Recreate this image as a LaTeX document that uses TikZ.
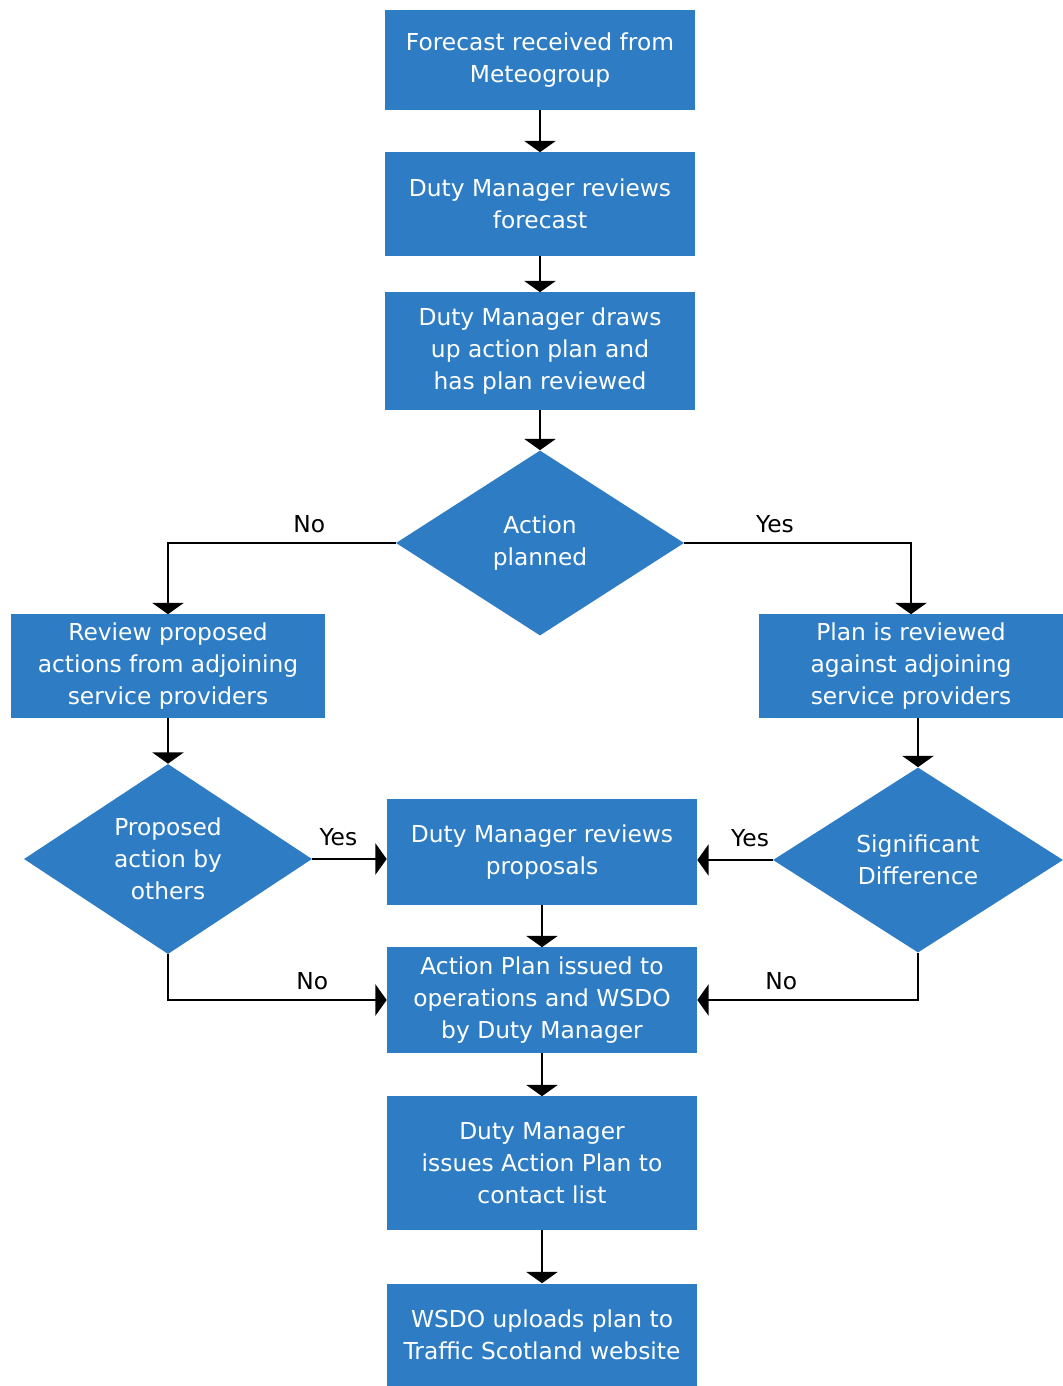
\documentclass[tikz,border=0pt]{standalone}
\usepackage{fontspec}
\setmainfont{DejaVu Sans}
\usetikzlibrary{shapes.geometric,arrows.meta}
\definecolor{flowblue}{RGB}{46,125,196}
\begin{document}
\begin{tikzpicture}[x=0.025cm, y=-0.025cm,
	font=\fontsize{16.6}{22.8}\selectfont,
	box/.style={rectangle, fill=flowblue, text=white, align=center, inner sep=0pt, minimum width=7.75cm},
	decision/.style={diamond, fill=flowblue, text=white, align=center, inner sep=0pt, minimum width=7.2cm, minimum height=4.625cm},
	arr/.style={line width=1.9pt, -{Triangle[length=8pt, width=22pt]}}]
	\useasboundingbox (0, 0) rectangle (1063, 1386);
	\node (fc)   at (540,   60)	[box, minimum height=2.5cm]	{Forecast received from\\Meteogroup};
	\node (rev)  at (540,  204)	[box, minimum height=2.575cm]	{Duty Manager reviews\\forecast};
	\node (draw) at (540,  351)	[box, minimum height=2.925cm]	{Duty Manager draws\\up action plan and\\has plan reviewed};
	\node (act)  at (540,  543)	[decision]	{Action\\planned};
	\node (adjL) at (168,  666)	[box, minimum width=7.825cm, minimum height=2.575cm]	{Review proposed\\actions from adjoining\\service providers};
	\node (adjR) at (911,  666)	[box, minimum width=7.6cm, minimum height=2.575cm]	{Plan is reviewed\\against adjoining\\service providers};
	\node (oth)  at (168,  859)	[decision]	{Proposed\\action by\\others};
	\node (sig)  at (918,  860)	[decision, minimum width=7.25cm]	{Significant\\Difference};
	\node (prop) at (542,  852)	[box, minimum height=2.625cm]	{Duty Manager reviews\\proposals};
	\node (iss)  at (542, 1000)	[box, minimum height=2.625cm]	{Action Plan issued to\\operations and WSDO\\by Duty Manager};
	\node (cont) at (542, 1163)	[box, minimum height=3.325cm]	{Duty Manager\\issues Action Plan to\\contact list};
	\node (web)  at (542, 1335)	[box, minimum height=2.575cm]	{WSDO uploads plan to\\Traffic Scotland website};
	\draw[arr] (fc) -- (rev);
	\draw[arr] (rev) -- (draw);
	\draw[arr] (draw) -- (act);
	\draw[arr] (act.west) -| (adjL.north) node[pos=0.19, above=3pt] {No};
	\draw[arr] (act.east) -| (adjR.north) node[pos=0.2, above=3pt] {Yes};
	\draw[arr] (adjL) -- (oth);
	\draw[arr] (sig.north |- adjR.south) -- (sig);
	\draw[arr] (oth.east) -- (oth.east -| prop.west) node[pos=0.35, above=5pt] {Yes};
	\draw[arr] (sig.west) -- (sig.west -| prop.east) node[pos=0.3, above=5pt] {Yes};
	\draw[arr] (oth.south) |- (iss.west) node[pos=0.83, above=3pt] {No};
	\draw[arr] (sig.south) |- (iss.east) node[pos=0.81, above=3pt] {No};
	\draw[arr] (prop) -- (iss);
	\draw[arr] (iss) -- (cont);
	\draw[arr] (cont) -- (web);
\end{tikzpicture}
\end{document}
